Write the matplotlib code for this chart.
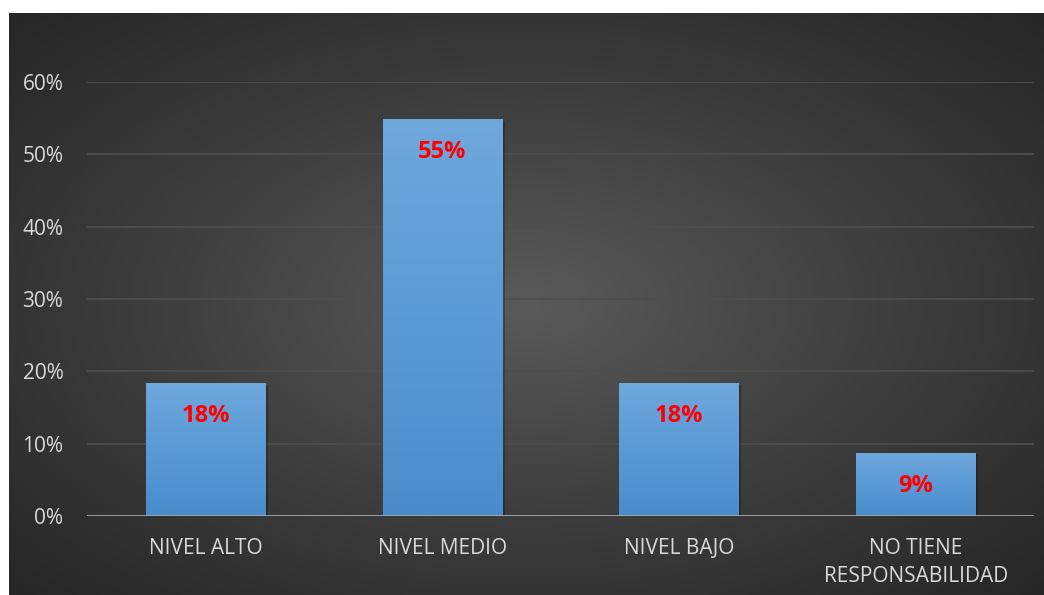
import numpy as np
import matplotlib
matplotlib.use("Agg")
import matplotlib.pyplot as plt
from matplotlib.colors import LinearSegmentedColormap

categories = ["NIVEL ALTO", "NIVEL MEDIO", "NIVEL BAJO", "NO TIENE\nRESPONSABILIDAD"]
values = [18.4, 54.9, 18.4, 8.7]
labels = ["18%", "55%", "18%", "9%"]
yticks = [0, 10, 20, 30, 40, 50, 60]
ytick_labels = ["0%", "10%", "20%", "30%", "40%", "50%", "60%"]

W, H = 1044, 595
fig = plt.figure(figsize=(W / 100, H / 100), dpi=100)
fig.patch.set_facecolor("white")

# background panel with radial gradient
bx0, by0 = 9 / W, 0
bg = fig.add_axes([bx0, by0, 1 - bx0, (H - 13) / H])
bg.set_axis_off()
ny, nx = 300, 520
yy, xx = np.mgrid[-1:1:ny * 1j, -1:1:nx * 1j]
r = np.sqrt(xx ** 2 + yy ** 2) / np.sqrt(2)
cmap_bg = LinearSegmentedColormap.from_list("bg", ["#5a5a5a", "#3e3e3e", "#262626"])
bg.imshow(r, cmap=cmap_bg, aspect="auto", extent=[0, 1, 0, 1], vmin=0, vmax=1)
bg.set_xlim(0, 1)
bg.set_ylim(0, 1)

# main axes
left = 87 / W
right = 1034 / W
bottom = (H - 516) / H
top = (H - 82) / H
ax = fig.add_axes([left, bottom, right - left, top - bottom])
ax.patch.set_alpha(0)
x = np.arange(len(categories))
ax.set_xlim(-0.5, len(categories) - 0.5)
ax.set_ylim(0, 60)

for yv in yticks[1:]:
    ax.axhline(yv, color="#4e4e4e", lw=1.3, zorder=1)

bars = ax.bar(x, values, width=0.503, color="#5b9bd5", zorder=3)
grad = np.linspace(0, 1, 256).reshape(-1, 1)
cmap_bar = LinearSegmentedColormap.from_list("bar", ["#4a8ccb", "#5a9ad6", "#6fa8dc"])
for b in bars:
    sh = plt.Rectangle((b.get_x() + 0.012, 0), b.get_width(), b.get_height() - 0.3,
                       facecolor="black", alpha=0.25, zorder=2, lw=0)
    ax.add_patch(sh)
    im = ax.imshow(grad, cmap=cmap_bar, aspect="auto", origin="lower",
                   extent=[b.get_x(), b.get_x() + b.get_width(), 0, b.get_height()],
                   zorder=3.5)
    im.set_clip_path(b)

ax.set_xlim(-0.5, len(categories) - 0.5)
ax.set_ylim(0, 60)

for xi, v, lab in zip(x, values, labels):
    ax.annotate(lab, (xi, v), xytext=(0, -23.5), textcoords="offset points",
                ha="center", va="center", color="#ff0000", fontsize=17,
                fontweight="bold", family="Open Sans", zorder=5)

ax.axhline(0, color="#a6a6a6", lw=2, zorder=4)

ax.set_yticks(yticks)
ax.set_yticklabels(ytick_labels, family="Open Sans", fontsize=15, color="#d9d9d9")
ax.set_xticks(x)
ax.set_xticklabels(categories, family="Open Sans", fontsize=15, color="#d9d9d9",
                   linespacing=1.45)
ax.tick_params(axis="both", length=0)
ax.tick_params(axis="y", pad=17)
ax.tick_params(axis="x", pad=16)
for s in ax.spines.values():
    s.set_visible(False)

fig.savefig("out.png", dpi=100, facecolor="white")
